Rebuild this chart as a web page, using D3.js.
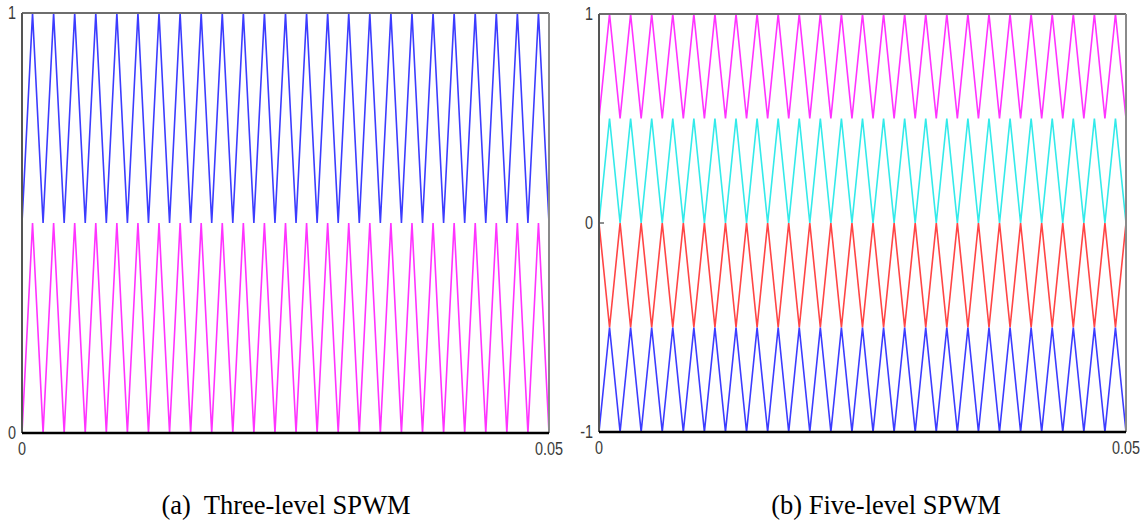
<!DOCTYPE html>
<html>
<head>
<meta charset="utf-8">
<script src="https://cdn.jsdelivr.net/npm/d3@7"></script>
<style>
  html, body { margin: 0; padding: 0; background: #fff; }
  .tick-label { font-family: "Liberation Sans", Arial, sans-serif; font-size: 18px; fill: #3a3a3a; }
  .caption { font-family: "Liberation Serif", "Times New Roman", serif; font-size: 26.5px; fill: #000; white-space: pre; }
</style>
</head>
<body>
<div id="chart"></div>
<script>
// --- Carrier vertex times (s): one peak or trough every 1 ms, 0 .. 50 ms ---
const vertexTimes = [
  0, 0.001, 0.002, 0.003, 0.004, 0.005, 0.006, 0.007, 0.008, 0.009,
  0.010, 0.011, 0.012, 0.013, 0.014, 0.015, 0.016, 0.017, 0.018, 0.019,
  0.020, 0.021, 0.022, 0.023, 0.024, 0.025, 0.026, 0.027, 0.028, 0.029,
  0.030, 0.031, 0.032, 0.033, 0.034, 0.035, 0.036, 0.037, 0.038, 0.039,
  0.040, 0.041, 0.042, 0.043, 0.044, 0.045, 0.046, 0.047, 0.048, 0.049, 0.050
];

// --- Three-level carriers: band [low, high] and the value at t = 0 ---
const threeLevelNames = ["upper", "lower"];
const threeLevelBands = [[0.5, 1], [0, 0.5]];
const threeLevelStart = ["low", "low"];

// --- Five-level carriers (the third one runs in phase opposition) ---
const fiveLevelNames = ["c1", "c2", "c3", "c4"];
const fiveLevelBands = [[0.5, 1], [0, 0.5], [-0.5, 0], [-1, -0.5]];
const fiveLevelStart = ["low", "low", "high", "low"];

// --- Axis domains and tick labels ---
const xDomain = [0, 0.05];
const xTickLabels = ["0", "0.05"];
const threeLevelYDomain = [0, 1];
const threeLevelYTicks = [1, 0];
const fiveLevelYDomain = [-1, 1];
const fiveLevelYTicks = [1, 0, -1];

const captions = ["(a)  Three-level SPWM", "(b) Five-level SPWM"];

// line colours
const threeColors = ["#3c3cff", "#ff33ff"];
const fiveColors = ["#ff33ff", "#33eaea", "#ff4545", "#3c3cff"];

// build a triangle carrier from its band
function carrier(band, start) {
  return vertexTimes.map((t, i) => {
    const atLow = (i % 2 === 0) === (start === "low");
    return { t, v: atLow ? band[0] : band[1] };
  });
}

const W = 1148, H = 529;
const svg = d3.select("#chart").append("svg")
  .attr("width", W).attr("height", H)
  .style("display", "block");
svg.append("rect").attr("width", W).attr("height", H).attr("fill", "#fff");

// narrow-looking tick label (horizontally squeezed)
function tickLabel(g, px, py, txt, anchor) {
  g.append("text").attr("class", "tick-label")
    .attr("transform", `translate(${px},${py}) scale(0.8,1)`)
    .attr("dy", "0.36em")
    .attr("text-anchor", anchor)
    .text(txt);
}

function drawPanel(opt) {
  const { left, top, width, height, yDomain, yTicks, series, colors, caption, captionX } = opt;
  const g = svg.append("g").attr("transform", `translate(${left},${top})`);

  const x = d3.scaleLinear().domain(xDomain).range([0, width]);
  const y = d3.scaleLinear().domain(yDomain).range([height, 0]);

  const line = d3.line().x(d => x(d.t)).y(d => y(d.v));

  series.forEach((s, i) => {
    g.append("path")
      .datum(s)
      .attr("fill", "none")
      .attr("stroke", colors[i])
      .attr("stroke-width", 1.6)
      .attr("d", line);
  });

  // frame: grey top/right, dark left, black bottom
  g.append("line").attr("x1", 0).attr("x2", width).attr("y1", 0).attr("y2", 0)
    .attr("stroke", "#6e6e6e").attr("stroke-width", 2);
  g.append("line").attr("x1", width).attr("x2", width).attr("y1", 0).attr("y2", height)
    .attr("stroke", "#8a8a8a").attr("stroke-width", 2);
  g.append("line").attr("x1", 0).attr("x2", 0).attr("y1", 0).attr("y2", height)
    .attr("stroke", "#555").attr("stroke-width", 2);
  g.append("line").attr("x1", 0).attr("x2", width).attr("y1", height).attr("y2", height)
    .attr("stroke", "#000").attr("stroke-width", 2.5);

  // y tick labels
  yTicks.forEach(v => {
    tickLabel(g, -6, y(v), v, "end");
    if (v !== yDomain[0] && v !== yDomain[1]) {
      g.append("line").attr("x1", 1).attr("x2", 5).attr("y1", y(v)).attr("y2", y(v))
        .attr("stroke", "#444").attr("stroke-width", 1.2);
    }
  });

  // x tick labels
  xDomain.forEach((v, i) => {
    tickLabel(g, x(v), height + 16, xTickLabels[i], "middle");
  });

  svg.append("text").attr("class", "caption")
    .attr("x", captionX).attr("y", 514)
    .attr("text-anchor", "middle")
    .text(caption);
}

drawPanel({
  left: 22, top: 13, width: 527, height: 420,
  yDomain: threeLevelYDomain, yTicks: threeLevelYTicks,
  series: threeLevelBands.map((b, i) => carrier(b, threeLevelStart[i])),
  colors: threeColors, caption: captions[0], captionX: 286
});

drawPanel({
  left: 599, top: 14, width: 527, height: 418,
  yDomain: fiveLevelYDomain, yTicks: fiveLevelYTicks,
  series: fiveLevelBands.map((b, i) => carrier(b, fiveLevelStart[i])),
  colors: fiveColors, caption: captions[1], captionX: 886
});
</script>
</body>
</html>
